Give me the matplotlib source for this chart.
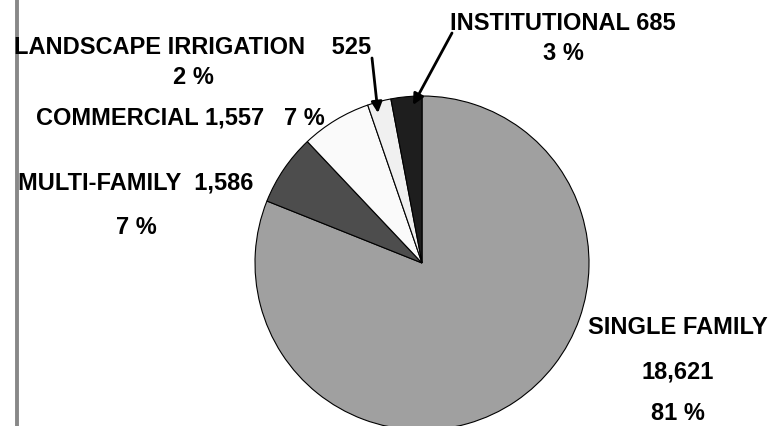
import matplotlib.pyplot as plt
from matplotlib.lines import Line2D

plt.rcParams['font.family'] = ['Liberation Sans', 'DejaVu Sans']

# data
categories = ['SINGLE FAMILY', 'MULTI-FAMILY', 'COMMERCIAL',
              'LANDSCAPE IRRIGATION', 'INSTITUTIONAL']
values = [18621, 1586, 1557, 525, 685]
colors = ['#a0a0a0', '#4d4d4d', '#fafafa', '#f0f0f0', '#1e1e1e']

total = sum(values)
pcts = [round(v / total * 100) for v in values]

W, H = 774, 426
CX, CY, R = 422, 263, 167  # pie centre / radius in pixels


def px(x, y):
    # pixel (from top-left) -> data coords of the pie axes
    return (x - CX) / R, (CY - y) / R


fig = plt.figure(figsize=(W / 100, H / 100), dpi=100)
ax = fig.add_axes([0, 0, 1, 1])
ax.pie(values, colors=colors, startangle=90, counterclock=False,
       wedgeprops=dict(edgecolor='black', linewidth=0.8))
ax.set_xlim(-CX / R, (W - CX) / R)
ax.set_ylim(-(H - CY) / R, CY / R)
ax.set_aspect('equal')
ax.axis('off')

# grey rule at the left edge, behind the labels
ax.add_line(Line2D([17 / W, 17 / W], [0, 1], color='#888888', lw=2.8,
                   transform=fig.transFigure, zorder=0.5))

label_lines = [
    [categories[0], f'{values[0]:,}', f'{pcts[0]} %'],
    [f'{categories[1]}  {values[1]:,}', f'{pcts[1]} %'],
    [f'{categories[2]} {values[2]:,}   {pcts[2]} %'],
    [f'{categories[3]}    {values[3]:,}', f'{pcts[3]} %'],
    [f'{categories[4]} {values[4]:,}', f'{pcts[4]} %'],
]
label_x = [678, 136, 180, 193, 563]
label_y = [[327, 372, 413], [183, 227], [118], [47, 77], [23, 53]]

for lines, lx, lys in zip(label_lines, label_x, label_y):
    for txt, ly in zip(lines, lys):
        ax.text(*px(lx, ly), txt, ha='center', va='center',
                fontsize=17, fontweight='bold', color='black')

arrow = dict(arrowstyle='-|>', color='black', lw=2, mutation_scale=16,
             shrinkA=0, shrinkB=0)
ax.annotate('', xy=px(378, 113), xytext=px(372, 58), arrowprops=arrow)
ax.annotate('', xy=px(413, 105), xytext=px(452, 33), arrowprops=arrow)

fig.savefig('out.png', dpi=100)
